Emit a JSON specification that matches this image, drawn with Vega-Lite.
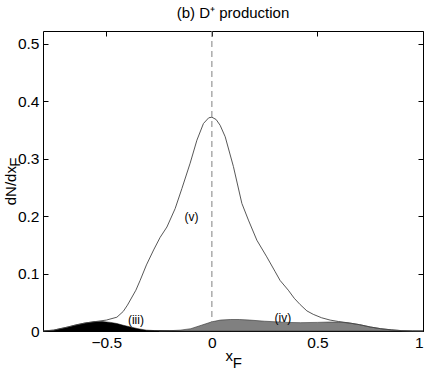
{
  "$schema": "https://vega.github.io/schema/vega-lite/v6.json",
  "width": 380,
  "height": 300,
  "autosize": {"type": "none"},
  "padding": {"left": 43, "top": 31, "right": 8, "bottom": 40},
  "config": {
    "font": "Liberation Sans",
    "view": {"stroke": "black", "strokeWidth": 1},
    "axis": {"grid": false, "domain": false, "tickColor": "black", "labelColor": "black", "titleColor": "black", "labelFontSize": 15.5, "titleFontSize": 15, "titleFontWeight": "normal", "tickSize": -5}
  },
  "title": {"text": "(b) D⁺ production", "fontSize": 15, "fontWeight": "normal", "color": "black", "offset": 10},
  "datasets": {
    "v": [
      {"x": -0.8, "y": 0}, {"x": -0.75, "y": 0.0015}, {"x": -0.7, "y": 0.0055}, {"x": -0.65, "y": 0.010},
      {"x": -0.6, "y": 0.014}, {"x": -0.55, "y": 0.0165}, {"x": -0.5, "y": 0.019}, {"x": -0.45, "y": 0.024},
      {"x": -0.42, "y": 0.034}, {"x": -0.4, "y": 0.045}, {"x": -0.36, "y": 0.071}, {"x": -0.34, "y": 0.088},
      {"x": -0.31, "y": 0.115}, {"x": -0.276, "y": 0.141}, {"x": -0.245, "y": 0.163}, {"x": -0.213, "y": 0.181},
      {"x": -0.174, "y": 0.213}, {"x": -0.142, "y": 0.248}, {"x": -0.103, "y": 0.292}, {"x": -0.071, "y": 0.332},
      {"x": -0.04, "y": 0.361}, {"x": -0.015, "y": 0.371}, {"x": 0, "y": 0.372}, {"x": 0.02, "y": 0.368},
      {"x": 0.039, "y": 0.358}, {"x": 0.063, "y": 0.338}, {"x": 0.102, "y": 0.286}, {"x": 0.142, "y": 0.222},
      {"x": 0.173, "y": 0.193}, {"x": 0.213, "y": 0.158}, {"x": 0.26, "y": 0.129}, {"x": 0.3, "y": 0.103},
      {"x": 0.323, "y": 0.088}, {"x": 0.362, "y": 0.071}, {"x": 0.39, "y": 0.057}, {"x": 0.418, "y": 0.046},
      {"x": 0.45, "y": 0.035}, {"x": 0.48, "y": 0.029}, {"x": 0.52, "y": 0.023}, {"x": 0.56, "y": 0.019},
      {"x": 0.6, "y": 0.0165}, {"x": 0.65, "y": 0.014}, {"x": 0.7, "y": 0.011}, {"x": 0.75, "y": 0.007},
      {"x": 0.8, "y": 0.004}, {"x": 0.85, "y": 0.002}, {"x": 0.9, "y": 0.0006}, {"x": 0.95, "y": 0.0001}, {"x": 1.0, "y": 0}
    ],
    "iii": [
      {"x": -0.8, "y": 0}, {"x": -0.75, "y": 0.0015}, {"x": -0.72, "y": 0.004}, {"x": -0.68, "y": 0.007},
      {"x": -0.64, "y": 0.011}, {"x": -0.6, "y": 0.014}, {"x": -0.56, "y": 0.016}, {"x": -0.52, "y": 0.0165},
      {"x": -0.48, "y": 0.015}, {"x": -0.45, "y": 0.013}, {"x": -0.42, "y": 0.010}, {"x": -0.386, "y": 0.007},
      {"x": -0.35, "y": 0.004}, {"x": -0.31, "y": 0.0015}, {"x": -0.27, "y": 0.0007}, {"x": -0.2, "y": 0.0004},
      {"x": -0.15, "y": 0.0002}, {"x": -0.1, "y": 0}
    ],
    "iv": [
      {"x": -0.25, "y": 0}, {"x": -0.2, "y": 0.0005}, {"x": -0.15, "y": 0.0015}, {"x": -0.1, "y": 0.004},
      {"x": -0.05, "y": 0.010}, {"x": 0, "y": 0.016}, {"x": 0.04, "y": 0.019}, {"x": 0.087, "y": 0.020},
      {"x": 0.13, "y": 0.020}, {"x": 0.18, "y": 0.019}, {"x": 0.25, "y": 0.017}, {"x": 0.3, "y": 0.016},
      {"x": 0.35, "y": 0.015}, {"x": 0.42, "y": 0.0145}, {"x": 0.5, "y": 0.015}, {"x": 0.55, "y": 0.0155},
      {"x": 0.6, "y": 0.0155}, {"x": 0.65, "y": 0.014}, {"x": 0.7, "y": 0.011}, {"x": 0.75, "y": 0.007},
      {"x": 0.8, "y": 0.004}, {"x": 0.85, "y": 0.002}, {"x": 0.9, "y": 0.0006}, {"x": 0.95, "y": 0.0001}, {"x": 1.0, "y": 0}
    ],
    "labels": [
      {"x": -0.097, "y": 0.199, "t": "(v)"},
      {"x": -0.36, "y": 0.019, "t": "(iii)"},
      {"x": 0.336, "y": 0.023, "t": "(iv)"}
    ],
    "zero": [{"x": 0}]
  },
  "resolve": {"axis": {"x": "independent", "y": "independent"}},
  "layer": [
    {
      "data": {"name": "iii"},
      "mark": {"type": "area", "color": "black", "stroke": "black", "strokeWidth": 0.5},
      "encoding": {
        "x": {"field": "x", "type": "quantitative", "scale": {"domain": [-0.8, 1], "nice": false},
          "axis": {"orient": "bottom", "values": [-0.5, 0, 0.5, 1], "format": "~g", "labelPadding": 9,
            "title": ["x\u2007\u200b", "\u200b\u2002F"], "titleLineHeight": 7, "titleBaseline": "top", "titleY": 17}},
        "y": {"field": "y", "type": "quantitative", "scale": {"domain": [0, 0.522], "nice": false}, "stack": null,
          "axis": {"orient": "left", "values": [0, 0.1, 0.2, 0.3, 0.4, 0.5], "format": "~g", "labelPadding": 9,
            "title": ["dN/dx\u2007\u200b", "\u200b\u2007\u2007\u2007\u2007\u00a0\u200aF"], "titleLineHeight": 4, "titleBaseline": "bottom", "titleX": -25, "titleY": 150}}
      }
    },
    {
      "data": {"name": "iv"},
      "mark": {"type": "area", "color": "#808080", "stroke": "#333333", "strokeWidth": 0.6},
      "encoding": {
        "x": {"field": "x", "type": "quantitative", "scale": {"domain": [-0.8, 1], "nice": false}, "axis": null},
        "y": {"field": "y", "type": "quantitative", "scale": {"domain": [0, 0.522], "nice": false}, "stack": null, "axis": null}
      }
    },
    {
      "data": {"name": "v"},
      "mark": {"type": "line", "color": "#444444", "strokeWidth": 0.9},
      "encoding": {
        "x": {"field": "x", "type": "quantitative", "scale": {"domain": [-0.8, 1], "nice": false},
          "axis": {"orient": "top", "values": [-0.5, 0, 0.5, 1], "labels": false, "title": null}},
        "y": {"field": "y", "type": "quantitative", "scale": {"domain": [0, 0.522], "nice": false},
          "axis": {"orient": "right", "values": [0, 0.1, 0.2, 0.3, 0.4, 0.5], "labels": false, "title": null}}
      }
    },
    {
      "data": {"name": "zero"},
      "mark": {"type": "rule", "color": "#808080", "strokeWidth": 1, "strokeDash": [6, 4]},
      "encoding": {
        "x": {"field": "x", "type": "quantitative", "scale": {"domain": [-0.8, 1], "nice": false}, "axis": null}
      }
    },
    {
      "data": {"name": "labels"},
      "mark": {"type": "text", "fontSize": 12, "color": "black"},
      "encoding": {
        "x": {"field": "x", "type": "quantitative", "scale": {"domain": [-0.8, 1], "nice": false}, "axis": null},
        "y": {"field": "y", "type": "quantitative", "scale": {"domain": [0, 0.522], "nice": false}, "axis": null},
        "text": {"field": "t"}
      }
    }
  ]
}
